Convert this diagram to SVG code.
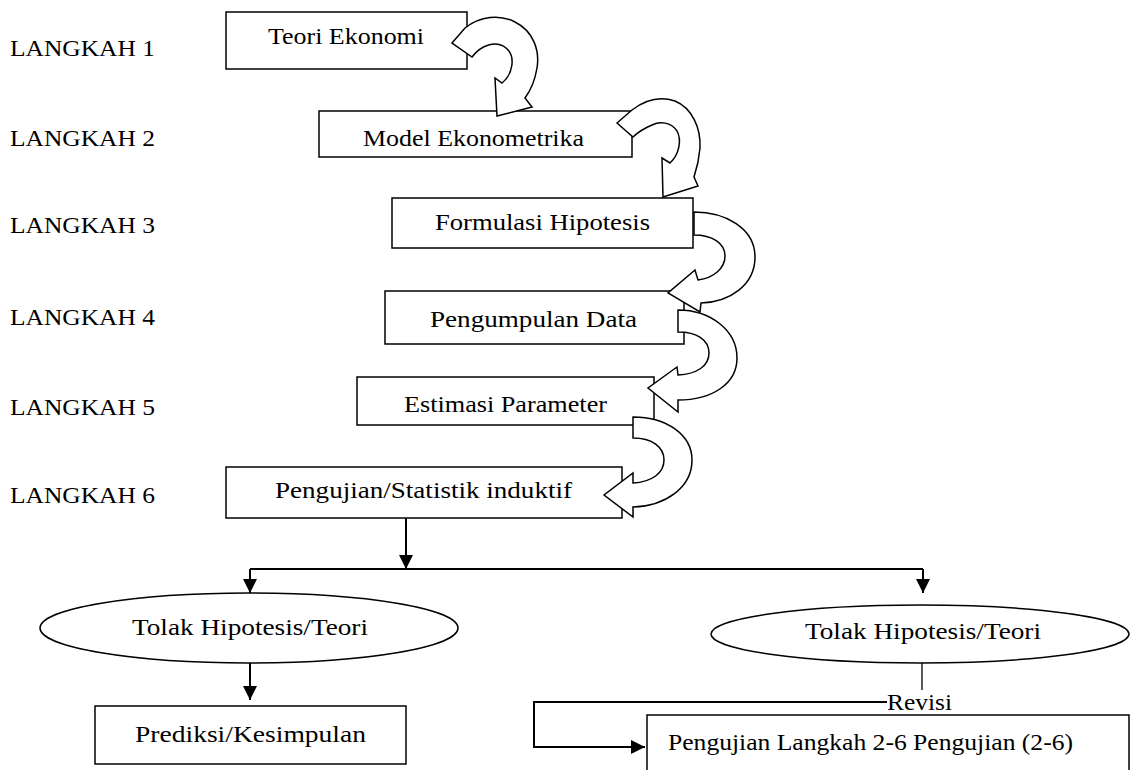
<svg xmlns="http://www.w3.org/2000/svg" width="1131" height="770" viewBox="0 0 1131 770">
  <style>
    .box { fill: #fff; stroke: #000; stroke-width: 1.5; }
    .oval { fill: #fff; stroke: #000; stroke-width: 1.5; }
    .curve { fill: #fff; stroke: #000; stroke-width: 1.5; stroke-linejoin: miter; }
    .conn { fill: none; stroke: #000; stroke-width: 2; }
    .thin { fill: none; stroke: #000; stroke-width: 1.3; }
    .lbl { font-family: "Liberation Serif", "Times New Roman", serif; font-size: 24px; fill: #000; }
  </style>
  <defs>
    <marker id="head" viewBox="0 0 14 14" refX="14" refY="7" markerWidth="14" markerHeight="14" markerUnits="userSpaceOnUse" orient="auto">
      <path d="M0,0 L14,7 L0,14 Z" fill="#000"/>
    </marker>
  </defs>

  <rect width="1131" height="770" fill="#fff"/>

  <!-- step labels -->
  <g id="steps">
    <text class="lbl" x="10" y="56" textLength="145" lengthAdjust="spacingAndGlyphs">LANGKAH 1</text>
    <text class="lbl" x="10" y="146" textLength="145" lengthAdjust="spacingAndGlyphs">LANGKAH 2</text>
    <text class="lbl" x="10" y="233" textLength="145" lengthAdjust="spacingAndGlyphs">LANGKAH 3</text>
    <text class="lbl" x="10" y="325" textLength="145" lengthAdjust="spacingAndGlyphs">LANGKAH 4</text>
    <text class="lbl" x="10" y="415" textLength="145" lengthAdjust="spacingAndGlyphs">LANGKAH 5</text>
    <text class="lbl" x="10" y="503" textLength="145" lengthAdjust="spacingAndGlyphs">LANGKAH 6</text>
  </g>

  <!-- process boxes -->
  <g id="teori">
    <rect class="box" x="226" y="12" width="241" height="57"/>
    <text class="lbl" x="268" y="44" textLength="156" lengthAdjust="spacingAndGlyphs">Teori Ekonomi</text>
  </g>
  <g id="model">
    <rect class="box" x="319" y="111" width="313" height="46"/>
    <text class="lbl" x="363" y="146" textLength="221" lengthAdjust="spacingAndGlyphs">Model Ekonometrika</text>
  </g>
  <g id="formulasi">
    <rect class="box" x="392" y="198" width="301" height="50"/>
    <text class="lbl" x="435" y="230" textLength="215" lengthAdjust="spacingAndGlyphs">Formulasi Hipotesis</text>
  </g>
  <g id="pengumpulan">
    <rect class="box" x="385" y="291" width="299" height="53"/>
    <text class="lbl" x="430" y="327" textLength="207" lengthAdjust="spacingAndGlyphs">Pengumpulan Data</text>
  </g>
  <g id="estimasi">
    <rect class="box" x="357" y="377" width="297" height="48"/>
    <text class="lbl" x="404" y="412" textLength="203" lengthAdjust="spacingAndGlyphs">Estimasi Parameter</text>
  </g>
  <g id="pengujian">
    <rect class="box" x="226" y="467" width="396" height="51"/>
    <text class="lbl" x="275" y="498" textLength="297" lengthAdjust="spacingAndGlyphs">Pengujian/Statistik induktif</text>
  </g>

  <!-- curved block arrows between steps -->
  <g id="curved-arrows">
    <path class="curve" d="M452,43 L465,28 C480,16 500,14 515,22 C533,31 540,50 537,68 C535,80 531,90 525,98 L532,107 L497,116 L495,78 L502,83 C513,74 516,56 506,48 C496,40 481,45 472,57 Z"/>
    <path class="curve" d="M617,123 L632,110 C645,100 660,96 675,101 C692,108 701,128 700,148 C699,160 697,168 694,177 L698,186 L663,197 L662,158 L670,163 C679,155 682,140 677,131 C671,122 660,121 652,125 C645,128 638,132 633,137 Z"/>
    <path class="curve" d="M678,310 C710,310 737,330 737,358 C737,384 712,400 678,400 L678,412 L648,388 L677,367 L678,375 C697,374 709,366 709,353 C709,340 697,332 678,332 Z"/>
    <path class="curve" d="M694,212 C725,212 755,228 755,257 C755,285 730,302 701,303 L700,312 L668,293 L695,270 L698,280 C714,278 725,268 725,256 C725,243 712,235 694,235 Z"/>
    <path class="curve" d="M633,417 C667,417 692,435 692,460 C692,488 665,506 633,507 L633,517 L604,495 L633,473 L633,483 C652,482 664,473 664,460 C664,447 652,438 633,438 Z"/>
  </g>

  <!-- outcomes -->
  <g id="tolak-kiri">
    <ellipse class="oval" cx="249" cy="628" rx="209" ry="35"/>
    <text class="lbl" x="132" y="635" textLength="236" lengthAdjust="spacingAndGlyphs">Tolak Hipotesis/Teori</text>
  </g>
  <g id="tolak-kanan">
    <ellipse class="oval" cx="920" cy="634" rx="209" ry="29"/>
    <text class="lbl" x="805" y="639" textLength="236" lengthAdjust="spacingAndGlyphs">Tolak Hipotesis/Teori</text>
  </g>
  <g id="prediksi">
    <rect class="box" x="95" y="706" width="311" height="58"/>
    <text class="lbl" x="135" y="742" textLength="231" lengthAdjust="spacingAndGlyphs">Prediksi/Kesimpulan</text>
  </g>
  <g id="pengujian-ulang">
    <rect class="box" x="647" y="715" width="482" height="70"/>
    <text class="lbl" x="668" y="750" textLength="405" lengthAdjust="spacingAndGlyphs">Pengujian Langkah 2-6 Pengujian (2-6)</text>
  </g>

  <!-- connectors -->
  <g id="connectors">
    <line class="conn" x1="406" y1="518" x2="406" y2="569" marker-end="url(#head)"/>
    <line class="conn" x1="250" y1="569" x2="923" y2="569"/>
    <line class="conn" x1="250" y1="569" x2="250" y2="593" marker-end="url(#head)"/>
    <line class="conn" x1="923" y1="569" x2="923" y2="593" marker-end="url(#head)"/>
    <line class="conn" x1="250" y1="663" x2="250" y2="700" marker-end="url(#head)"/>
    <line class="thin" x1="922" y1="663" x2="922" y2="690"/>
    <polyline class="conn" points="887,702 534,702 534,747 645,747" marker-end="url(#head)"/>
    <text class="lbl" x="887" y="710" textLength="65" lengthAdjust="spacingAndGlyphs">Revisi</text>
  </g>
</svg>
